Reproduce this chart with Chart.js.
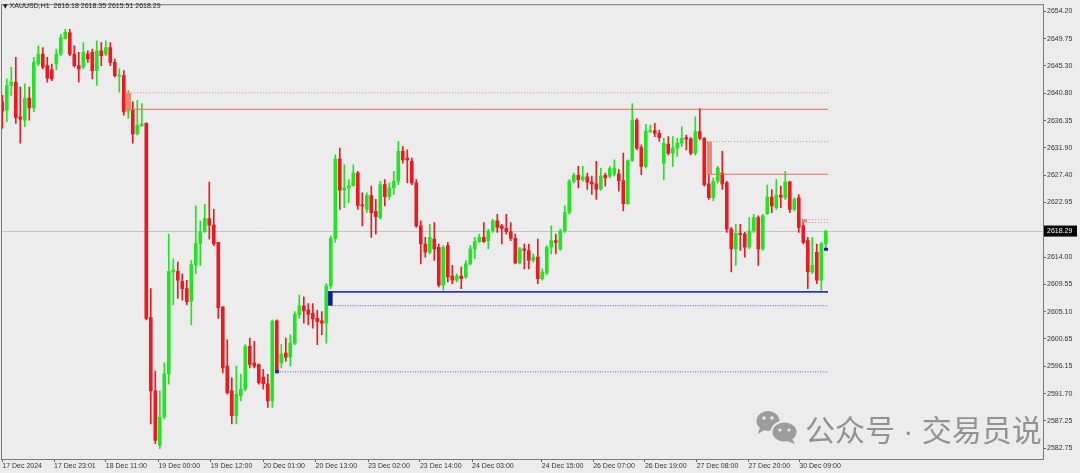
<!DOCTYPE html>
<html>
<head>
<meta charset="utf-8">
<title>XAUUSD,H1</title>
<script src="https://cdn.jsdelivr.net/npm/chart.js@4.4.1/dist/chart.umd.min.js"></script>
<style>
  html, body { margin: 0; padding: 0; background: #ececec; }
  #wrap { position: relative; width: 1080px; height: 473px; overflow: hidden; background: #ececec; }
  #chart { position: absolute; left: 0; top: 0; }
  #header { position: absolute; left: 3px; top: 2px; font: 7px 'Liberation Sans', Arial, sans-serif; color: #222; white-space: pre; }
  #header .tri { font: 6px 'DejaVu Sans', sans-serif; }
  #icon { position: absolute; left: 755px; top: 409px; opacity: 0.85; }
  #mark { position: absolute; left: 805px; top: 413px; font: 30px/30px 'Noto Sans CJK SC', sans-serif; color: rgba(120,120,120,0.78); white-space: pre; }
  #mark .sep { font-family: 'Liberation Sans', Arial, sans-serif; }
</style>
</head>
<body>
<div id="wrap">
  <canvas id="chart" width="1080" height="473"></canvas>
  <div id="header"><span class="tri">▼</span> XAUUSD,H1  2616.18 2618.35 2615.51 2618.29</div>
  <svg id="icon" width="46" height="36" viewBox="0 0 46 36">
    <ellipse cx="13" cy="12" rx="11.5" ry="10" fill="#8f8f8f"/>
    <path d="M5 18 L3 25 L11 20 Z" fill="#8f8f8f"/>
    <ellipse cx="29.5" cy="23" rx="13" ry="10.5" fill="#8f8f8f" stroke="#ececec" stroke-width="2"/>
    <path d="M37 30 L40 35 L32 32 Z" fill="#8f8f8f"/>
    <circle cx="9" cy="9" r="1.7" fill="#ececec"/>
    <circle cx="17" cy="9" r="1.7" fill="#ececec"/>
    <circle cx="25" cy="21" r="1.6" fill="#ececec"/>
    <circle cx="34" cy="21" r="1.6" fill="#ececec"/>
  </svg>
  <div id="mark">公众号<span class="sep"> · </span>交易员说</div>
</div>
<script>
// H1 candles (bar 0 = first bar on the left)
const opens = [
  2639.41, 2638.04, 2642.09, 2642.64, 2636.98, 2636.43, 2640.05, 2638.43, 2645.61, 2647.23,
  2645.33, 2644.64, 2645.61, 2647.23, 2649.77, 2650.75, 2647.23, 2645.33, 2645.08, 2647.23,
  2647.51, 2644.52, 2647.76, 2647.23, 2648.31, 2645.88, 2643.62, 2643.71, 2637.88, 2638.04,
  2634.16, 2635.53, 2635.89, 2604.14, 2592.15, 2583.24, 2587.94, 2594.95, 2611.59, 2611.70,
  2610.08, 2608.88, 2606.84, 2612.77, 2616.29, 2618.18, 2620.34, 2619.25, 2616.45, 2605.92,
  2596.20, 2592.15, 2588.10, 2591.34, 2592.43, 2599.44, 2596.73, 2596.47, 2594.42, 2593.33,
  2590.53, 2603.60, 2596.73, 2598.35, 2597.66, 2599.97, 2604.57, 2606.08, 2605.38, 2604.83,
  2604.02, 2603.60, 2603.21, 2609.32, 2617.10, 2630.06, 2624.99, 2625.36, 2625.73, 2627.79,
  2622.49, 2621.84, 2624.11, 2621.47, 2620.50, 2625.89, 2623.90, 2625.36, 2626.44, 2631.31,
  2630.22, 2629.69, 2626.17, 2619.15, 2616.17, 2614.83, 2616.98, 2615.64, 2609.43, 2615.91,
  2610.94, 2610.24, 2610.94, 2610.78, 2612.93, 2615.37, 2616.56, 2617.26, 2616.72, 2618.34,
  2619.97, 2619.15, 2618.72, 2618.18, 2617.10, 2613.10, 2615.37, 2615.11, 2613.48, 2614.02,
  2610.50, 2611.48, 2615.64, 2616.72, 2615.37, 2618.34, 2621.31, 2626.44, 2627.42, 2626.71,
  2627.14, 2626.28, 2626.01, 2625.20, 2627.42, 2627.26, 2627.63, 2627.63, 2626.54, 2622.77,
  2629.78, 2636.43, 2631.95, 2628.87, 2634.55, 2634.71, 2634.27, 2629.41, 2632.49, 2631.03,
  2631.84, 2632.65, 2633.57, 2633.35, 2631.03, 2634.55, 2633.46, 2626.01, 2623.74, 2626.44,
  2627.79, 2626.17, 2618.60, 2615.37, 2617.91, 2617.79, 2615.64, 2618.34, 2620.50, 2615.37,
  2621.15, 2623.85, 2622.12, 2624.17, 2623.74, 2626.33, 2621.84, 2623.74, 2619.15, 2616.72,
  2611.59, 2614.83, 2610.24, 2616.18
];
const highs = [
  2640.47, 2643.18, 2645.08, 2646.69, 2641.84, 2642.37, 2641.84, 2646.69, 2648.57, 2648.31,
  2646.69, 2645.61, 2648.04, 2650.47, 2651.28, 2651.28, 2648.57, 2647.51, 2649.12, 2647.76,
  2648.04, 2649.38, 2649.12, 2649.38, 2649.12, 2646.42, 2644.80, 2644.52, 2641.24, 2639.41,
  2639.66, 2639.13, 2636.00, 2608.88, 2595.39, 2592.15, 2596.73, 2617.79, 2613.74, 2613.21,
  2611.31, 2610.24, 2613.48, 2622.40, 2619.97, 2622.66, 2626.28, 2621.84, 2616.45, 2605.92,
  2600.52, 2594.30, 2596.20, 2594.86, 2599.71, 2600.78, 2600.25, 2596.57, 2595.67, 2594.86,
  2603.76, 2603.76, 2599.71, 2600.78, 2601.33, 2605.11, 2607.81, 2607.54, 2606.45, 2606.45,
  2605.38, 2605.11, 2609.69, 2617.53, 2630.75, 2631.84, 2629.13, 2626.71, 2629.13, 2628.06,
  2624.55, 2624.55, 2625.63, 2623.46, 2626.44, 2626.71, 2626.17, 2628.06, 2632.93, 2632.12,
  2631.57, 2630.22, 2626.71, 2619.97, 2617.26, 2619.41, 2619.69, 2616.17, 2615.91, 2616.45,
  2612.68, 2611.31, 2612.40, 2613.48, 2615.91, 2617.26, 2617.79, 2619.69, 2618.60, 2620.22,
  2621.03, 2619.41, 2621.03, 2619.69, 2617.79, 2615.64, 2616.17, 2616.17, 2614.55, 2616.98,
  2612.12, 2615.91, 2619.15, 2617.79, 2618.60, 2622.40, 2626.71, 2627.79, 2628.87, 2628.87,
  2627.79, 2627.26, 2629.69, 2628.60, 2627.79, 2628.87, 2629.94, 2628.33, 2631.03, 2629.94,
  2639.13, 2636.70, 2632.37, 2635.73, 2635.62, 2635.89, 2634.80, 2633.46, 2633.74, 2633.74,
  2633.46, 2635.36, 2633.99, 2633.57, 2636.98, 2638.32, 2633.57, 2627.51, 2626.98, 2628.87,
  2631.31, 2626.44, 2618.88, 2619.41, 2619.41, 2618.07, 2620.50, 2621.03, 2620.77, 2621.03,
  2625.80, 2625.08, 2626.71, 2625.63, 2628.06, 2626.44, 2623.74, 2624.27, 2620.22, 2617.26,
  2617.26, 2616.17, 2616.45, 2618.35
];
const lows = [
  2635.08, 2636.17, 2640.47, 2635.89, 2632.65, 2635.36, 2636.43, 2637.78, 2645.33, 2644.80,
  2642.64, 2642.86, 2644.64, 2646.95, 2649.66, 2646.95, 2645.08, 2642.64, 2644.80, 2645.88,
  2643.18, 2642.09, 2645.33, 2646.95, 2645.33, 2643.46, 2641.02, 2637.23, 2636.70, 2632.65,
  2634.03, 2635.41, 2603.76, 2586.75, 2583.52, 2582.70, 2587.57, 2593.24, 2606.20, 2607.26,
  2607.01, 2606.20, 2602.96, 2611.31, 2612.68, 2618.07, 2616.98, 2615.91, 2604.02, 2595.11,
  2591.61, 2586.75, 2586.75, 2590.53, 2592.15, 2595.92, 2595.92, 2593.24, 2592.43, 2589.44,
  2589.44, 2595.11, 2595.92, 2597.01, 2596.20, 2599.71, 2604.02, 2603.21, 2602.96, 2602.40,
  2599.71, 2601.33, 2599.97, 2608.88, 2616.45, 2621.84, 2622.12, 2622.93, 2625.63, 2621.84,
  2619.15, 2621.31, 2617.26, 2617.79, 2620.22, 2622.40, 2623.46, 2624.27, 2625.89, 2629.41,
  2626.17, 2625.89, 2618.88, 2612.93, 2614.02, 2614.55, 2613.48, 2609.16, 2608.62, 2609.97,
  2609.69, 2609.97, 2608.88, 2610.50, 2612.77, 2613.74, 2616.45, 2616.45, 2615.37, 2618.07,
  2618.07, 2616.17, 2617.79, 2616.72, 2612.93, 2612.93, 2612.12, 2612.12, 2613.21, 2609.69,
  2610.24, 2611.15, 2614.55, 2614.55, 2615.11, 2618.07, 2621.03, 2626.17, 2625.36, 2626.44,
  2625.08, 2624.27, 2623.46, 2624.92, 2625.63, 2626.98, 2627.26, 2624.82, 2621.58, 2622.66,
  2629.69, 2631.57, 2627.51, 2628.60, 2634.39, 2633.74, 2632.93, 2626.71, 2630.75, 2628.87,
  2630.50, 2632.12, 2631.57, 2630.75, 2630.75, 2633.18, 2625.63, 2623.46, 2623.20, 2626.17,
  2625.08, 2618.07, 2611.59, 2612.68, 2615.11, 2614.02, 2615.37, 2618.07, 2612.68, 2615.11,
  2621.03, 2621.31, 2621.84, 2622.12, 2623.46, 2621.31, 2621.58, 2618.07, 2616.17, 2608.88,
  2611.31, 2609.69, 2608.62, 2615.51
];
const closes = [
  2637.88, 2642.09, 2642.64, 2636.83, 2636.59, 2639.94, 2638.43, 2645.88, 2647.23, 2645.08,
  2643.29, 2643.18, 2647.23, 2649.94, 2650.84, 2647.23, 2645.33, 2644.80, 2647.51, 2646.42,
  2644.52, 2647.76, 2646.95, 2648.31, 2645.88, 2643.71, 2643.71, 2637.78, 2638.32, 2634.16,
  2635.58, 2635.80, 2604.02, 2592.15, 2584.05, 2587.82, 2594.95, 2611.70, 2611.96, 2610.24,
  2608.88, 2606.73, 2612.77, 2616.29, 2618.18, 2620.34, 2619.25, 2616.17, 2605.76, 2595.92,
  2591.87, 2588.10, 2591.61, 2592.43, 2599.44, 2596.47, 2596.20, 2593.50, 2593.33, 2590.53,
  2603.49, 2595.39, 2598.19, 2597.66, 2599.97, 2604.67, 2606.08, 2605.22, 2604.67, 2603.93,
  2603.49, 2603.21, 2609.32, 2617.10, 2630.06, 2624.99, 2625.36, 2625.73, 2627.79, 2622.49,
  2622.40, 2624.11, 2621.31, 2620.66, 2625.89, 2623.90, 2625.36, 2626.44, 2631.31, 2629.94,
  2629.94, 2626.17, 2619.15, 2616.17, 2614.83, 2617.26, 2615.37, 2609.43, 2615.64, 2610.78,
  2610.24, 2610.94, 2610.50, 2612.93, 2615.37, 2616.56, 2617.26, 2616.56, 2618.34, 2619.97,
  2618.88, 2618.72, 2618.18, 2617.10, 2613.10, 2615.37, 2615.11, 2613.48, 2614.02, 2610.50,
  2611.59, 2615.64, 2616.72, 2616.45, 2618.34, 2621.31, 2626.44, 2627.42, 2626.71, 2627.14,
  2626.28, 2626.01, 2625.08, 2627.26, 2626.98, 2628.49, 2628.60, 2626.54, 2622.77, 2629.78,
  2636.43, 2631.84, 2628.87, 2634.65, 2634.71, 2634.27, 2633.57, 2632.65, 2631.03, 2631.84,
  2632.65, 2633.46, 2633.30, 2631.03, 2634.55, 2633.46, 2625.89, 2623.74, 2626.44, 2628.60,
  2626.01, 2618.60, 2615.37, 2617.91, 2617.70, 2615.64, 2618.34, 2620.50, 2615.37, 2620.77,
  2623.85, 2622.40, 2624.17, 2623.85, 2626.33, 2621.84, 2623.46, 2618.88, 2616.45, 2611.59,
  2612.68, 2610.24, 2616.17, 2618.29
];

// time axis labels and the bar each one sits on
const timeLabels = ['17 Dec 2024', '17 Dec 23:01', '18 Dec 11:00', '19 Dec 00:00', '19 Dec 12:00',
  '20 Dec 01:00', '20 Dec 13:00', '23 Dec 02:00', '23 Dec 14:00', '24 Dec 03:00', '24 Dec 15:00',
  '26 Dec 07:00', '26 Dec 19:00', '27 Dec 08:00', '27 Dec 20:00', '30 Dec 09:00'];
const timeLabelBar = [0, 11.5, 23, 34.7, 46.3, 58, 69.6, 81.3, 92.8, 104.4, 119.9, 131.3, 142.8, 154.3, 165.8, 177.1];

// price scale labels
const priceTicks = [2654.20, 2649.75, 2645.30, 2640.80, 2636.35, 2631.90, 2627.40, 2622.95,
  2614.00, 2609.55, 2605.10, 2600.65, 2596.15, 2591.70, 2587.25, 2582.75];

// drawn levels: price, first bar, last bar, kind
const levelPrice = [2640.90, 2638.20, 2632.92, 2627.58, 2620.18, 2619.69, 2608.35, 2606.08, 2595.27, 2595.27, 2615.30];
const levelFrom  = [27.3, 27.3, 156.6, 156.6, 177.9, 177.9, 72.4, 73.4, 60.6, 60.6, 182.6];
const levelTo    = [183.5, 183.5, 183.5, 183.5, 183.5, 183.5, 183.5, 183.5, 183.5, 61.5, 183.5];
const levelKind  = ['redDot', 'red', 'redDot', 'red', 'redDot', 'redDot', 'blue', 'blueDot', 'blueDot', 'blueMark', 'blueMark'];

// zone boxes: first bar, last bar, top price, bottom price, kind
const zoneFrom   = [27.3, 156.6, 177.9, 72.4];
const zoneTo     = [28.6, 157.7, 178.8, 73.4];
const zoneTop    = [2640.90, 2632.92, 2620.22, 2608.35];
const zoneBottom = [2638.20, 2627.58, 2619.69, 2606.08];
const zoneKind   = ['supply', 'supply', 'supply', 'demand'];

const UP = 'rgb(34,228,34)';
const DOWN = 'rgb(236,26,32)';
const lastPrice = closes[closes.length - 1];

const levelStyle = {
  red:      { color: '#ef6a50', width: 1, dash: [] },
  redDot:   { color: '#f08a78', width: 1, dash: [1, 2] },
  blue:     { color: '#2a36c8', width: 1.6, dash: [] },
  blueDot:  { color: '#5262da', width: 1, dash: [1, 1.5] },
  blueMark: { color: '#1020b0', width: 3, dash: [] }
};
const zoneColor = { supply: '#f2846c', demand: '#0c1a9c' };

const candleColor = ctx => closes[ctx.dataIndex] >= opens[ctx.dataIndex] ? UP : DOWN;

const levelSets = levelPrice.map((p, i) => {
  const st = levelStyle[levelKind[i]];
  return {
    type: 'line',
    data: [{ x: levelFrom[i], y: p }, { x: levelTo[i], y: p }],
    borderColor: st.color,
    borderWidth: st.width,
    borderDash: st.dash,
    pointRadius: 0,
    fill: false,
    order: 0
  };
});

const overlay = {
  id: 'overlay',
  beforeDatasetsDraw(chart) {
    const a = chart.chartArea, ctx = chart.ctx;
    const y = Math.round(chart.scales.y.getPixelForValue(lastPrice)) + 0.5;
    ctx.save();
    ctx.strokeStyle = '#c4c4c4';
    ctx.lineWidth = 1;
    ctx.beginPath();
    ctx.moveTo(a.left, y);
    ctx.lineTo(a.right, y);
    ctx.stroke();
    ctx.restore();
  },
  afterDatasetsDraw(chart) {
    const xs = chart.scales.x, ys = chart.scales.y, ctx = chart.ctx;
    ctx.save();
    zoneFrom.forEach((f, i) => {
      const x0 = xs.getPixelForValue(f), x1 = xs.getPixelForValue(zoneTo[i]);
      const y0 = ys.getPixelForValue(zoneTop[i]), y1 = ys.getPixelForValue(zoneBottom[i]);
      ctx.fillStyle = zoneColor[zoneKind[i]];
      ctx.fillRect(x0, y0, x1 - x0, Math.max(1, y1 - y0));
    });
    ctx.restore();
  },
  afterDraw(chart) {
    const a = chart.chartArea, ctx = chart.ctx;
    ctx.save();
    ctx.strokeStyle = '#7a7a7a';
    ctx.lineWidth = 1;
    ctx.strokeRect(a.left - 0.5, a.top - 0.5, a.width + 1, a.height + 1);
    // current price box on the price scale
    const y = chart.scales.y.getPixelForValue(lastPrice);
    ctx.fillStyle = '#000';
    ctx.fillRect(a.right + 1, y - 5.5, 33, 11);
    ctx.fillStyle = '#fff';
    ctx.font = "7px 'Liberation Sans', Arial, sans-serif";
    ctx.textBaseline = 'middle';
    ctx.fillText(lastPrice.toFixed(2), a.right + 4, y + 0.5);
    ctx.restore();
  }
};

new Chart(document.getElementById('chart'), {
  type: 'bar',
  data: {
    datasets: [
      ...levelSets,
      {
        label: 'body',
        data: opens.map((o, i) => ({ x: i, y: [o, closes[i]] })),
        backgroundColor: candleColor,
        barThickness: 3,
        minBarLength: 1,
        grouped: false,
        borderWidth: 0,
        order: 1
      },
      {
        label: 'wick',
        data: lows.map((l, i) => ({ x: i, y: [l, highs[i]] })),
        backgroundColor: candleColor,
        barThickness: 1,
        grouped: false,
        borderWidth: 0,
        order: 2
      }
    ]
  },
  options: {
    responsive: false,
    animation: false,
    layout: { padding: { left: 2, top: 1, right: 0, bottom: 0 } },
    plugins: {
      legend: { display: false },
      tooltip: { enabled: false }
    },
    scales: {
      x: {
        type: 'linear',
        min: -0.067,
        max: 231.27,
        offset: false,
        afterBuildTicks: s => { s.ticks = timeLabelBar.map(v => ({ value: v })); },
        afterFit: s => { s.height = 14; },
        grid: { display: true, offset: false, drawOnChartArea: false, drawTicks: true, tickLength: 3, color: '#666' },
        border: { display: false },
        ticks: {
          autoSkip: false,
          maxRotation: 0,
          align: 'start',
          padding: 0,
          color: '#333',
          font: { family: "'Liberation Sans', Arial, sans-serif", size: 7 },
          callback: (v, i) => timeLabels[i]
        }
      },
      y: {
        type: 'linear',
        position: 'right',
        min: 2581.02,
        max: 2655.22,
        beginAtZero: false,
        afterBuildTicks: s => { s.ticks = priceTicks.map(v => ({ value: v })); },
        afterFit: s => { s.width = 37; },
        grid: { drawOnChartArea: false, drawTicks: true, tickLength: 3, color: '#666' },
        border: { display: false },
        ticks: {
          autoSkip: false,
          padding: 1,
          color: '#333',
          font: { family: "'Liberation Sans', Arial, sans-serif", size: 7 },
          callback: v => Number(v).toFixed(2)
        }
      }
    }
  },
  plugins: [overlay]
});
</script>
</body>
</html>
